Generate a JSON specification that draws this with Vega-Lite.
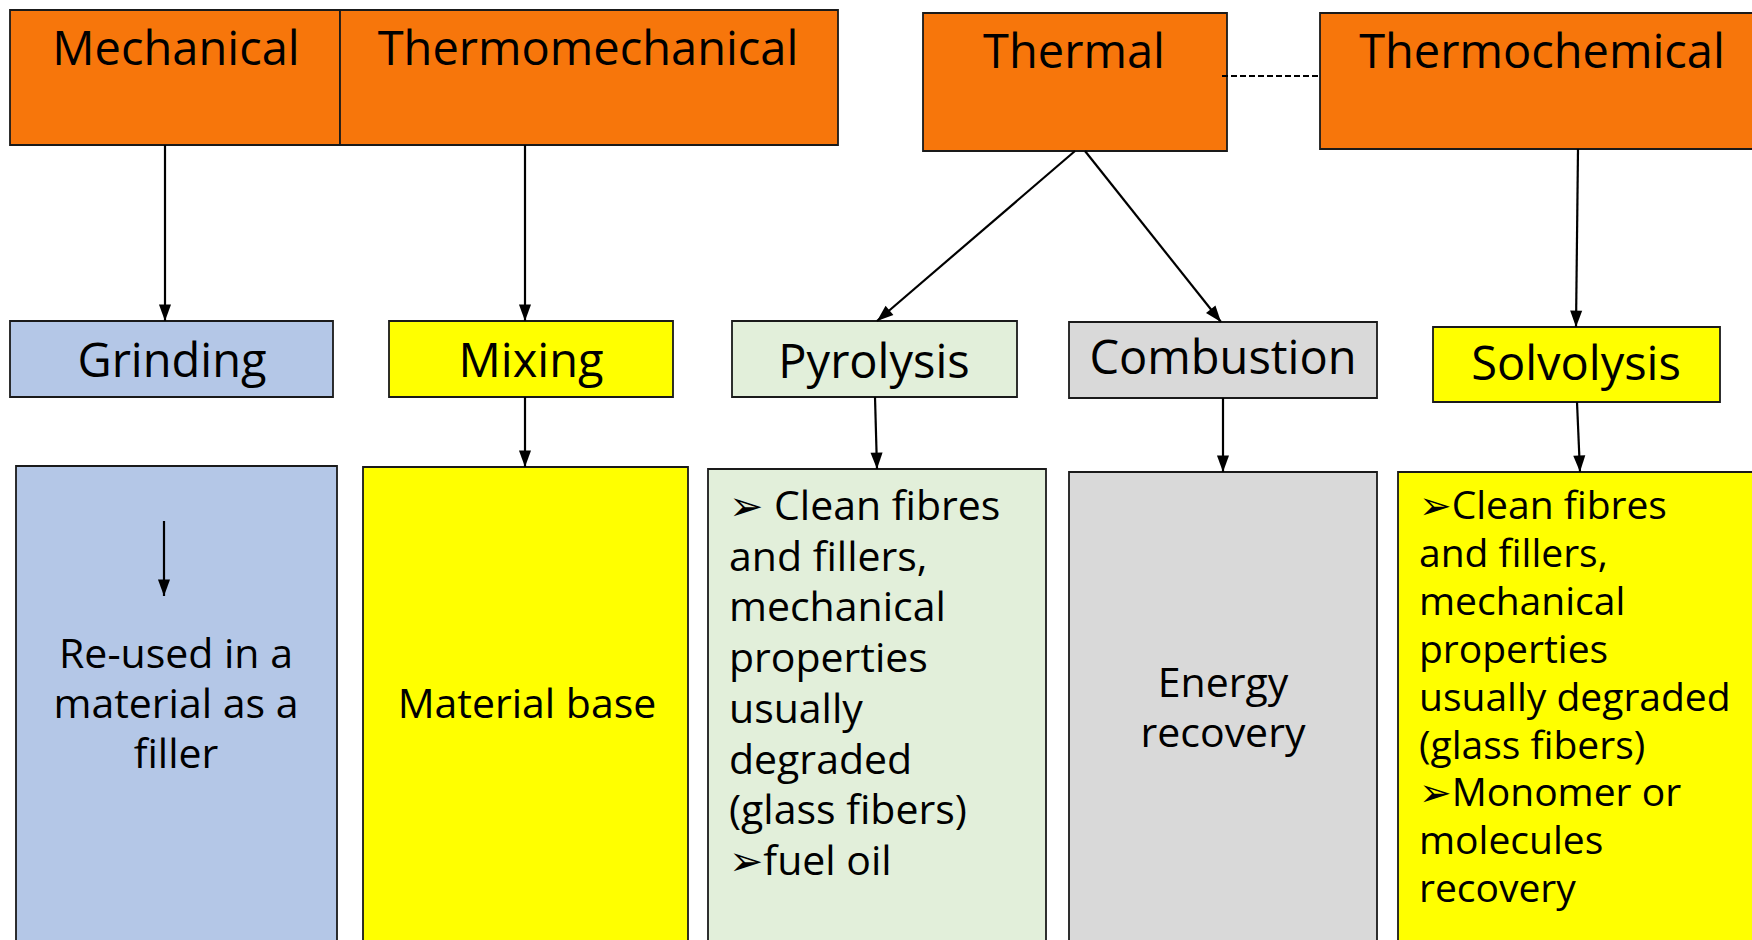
{
  "$schema": "https://vega.github.io/schema/vega-lite/v6.json",
  "autosize": {"type": "fit", "contains": "padding"},
  "width": 1752,
  "height": 940,
  "padding": 0,
  "background": "white",
  "config": {"view": {"stroke": null}},
  "datasets": {
    "boxes": [
      {"name": "Mechanical", "kind": "head", "x": 10, "x2": 340, "y": 10, "y2": 145},
      {"name": "Thermomechanical", "kind": "head", "x": 340, "x2": 838, "y": 10, "y2": 145},
      {"name": "Thermal", "kind": "head", "x": 923, "x2": 1227, "y": 13, "y2": 151},
      {"name": "Thermochemical", "kind": "head", "x": 1320, "x2": 1765, "y": 13, "y2": 149},
      {"name": "Grinding", "kind": "blue", "x": 10, "x2": 333, "y": 321, "y2": 397},
      {"name": "Mixing", "kind": "yellow", "x": 389, "x2": 673, "y": 321, "y2": 397},
      {"name": "Pyrolysis", "kind": "green", "x": 732, "x2": 1017, "y": 321, "y2": 397},
      {"name": "Combustion", "kind": "grey", "x": 1069, "x2": 1377, "y": 322, "y2": 398},
      {"name": "Solvolysis", "kind": "yellow", "x": 1433, "x2": 1720, "y": 327, "y2": 402},
      {"name": "Grinding out", "kind": "blue", "x": 16, "x2": 337, "y": 466, "y2": 960},
      {"name": "Mixing out", "kind": "yellow", "x": 363, "x2": 688, "y": 467, "y2": 960},
      {"name": "Pyrolysis out", "kind": "green", "x": 708, "x2": 1046, "y": 469, "y2": 960},
      {"name": "Combustion out", "kind": "grey", "x": 1069, "x2": 1377, "y": 472, "y2": 960},
      {"name": "Solvolysis out", "kind": "yellow", "x": 1398, "x2": 1765, "y": 472, "y2": 960}
    ],
    "links": [
      {"from": "Mechanical", "x": 165, "y": 145, "x2": 165, "y2": 321, "angle": 0},
      {"from": "Thermomechanical", "x": 525, "y": 145, "x2": 525, "y2": 321, "angle": 0},
      {"from": "Thermal-Pyrolysis", "x": 1075, "y": 151, "x2": 877, "y2": 321, "angle": 49.4},
      {"from": "Thermal-Combustion", "x": 1085, "y": 151, "x2": 1221, "y2": 322, "angle": -38.7},
      {"from": "Thermochemical", "x": 1578, "y": 149, "x2": 1576, "y2": 327, "angle": 0.6},
      {"from": "Mixing", "x": 525, "y": 397, "x2": 525, "y2": 467, "angle": 0},
      {"from": "Pyrolysis", "x": 875, "y": 397, "x2": 877, "y2": 469, "angle": -1.6},
      {"from": "Combustion", "x": 1223, "y": 398, "x2": 1223, "y2": 472, "angle": 0},
      {"from": "Solvolysis", "x": 1577, "y": 402, "x2": 1580, "y2": 472, "angle": -2.5},
      {"from": "Grinding inner", "x": 164, "y": 521, "x2": 164, "y2": 596, "angle": 0}
    ],
    "dashed": [
      {"from": "Thermal", "to": "Thermochemical", "x": 1222, "y": 76, "x2": 1320, "y2": 76}
    ],
    "heads": [
      {"label": "Mechanical", "x": 176, "y": 65},
      {"label": "Thermomechanical", "x": 588, "y": 65},
      {"label": "Thermal", "x": 1074, "y": 68},
      {"label": "Thermochemical", "x": 1542, "y": 68},
      {"label": "Grinding", "x": 172, "y": 377},
      {"label": "Mixing", "x": 531, "y": 377},
      {"label": "Pyrolysis", "x": 874, "y": 378},
      {"label": "Combustion", "x": 1223, "y": 374},
      {"label": "Solvolysis", "x": 1576, "y": 380}
    ],
    "centered": [
      {"label": "Re-used in a\nmaterial as a\nfiller", "x": 176, "y": 668},
      {"label": "Material base", "x": 527, "y": 718},
      {"label": "Energy\nrecovery", "x": 1223, "y": 697}
    ],
    "pyro": [
      {"label": "➢ Clean fibres\nand fillers,\nmechanical\nproperties\nusually\ndegraded\n(glass fibers)\n➢fuel oil", "x": 729, "y": 520}
    ],
    "solvo": [
      {"label": "➢Clean fibres\nand fillers,\nmechanical\nproperties\nusually degraded\n(glass fibers)\n➢Monomer or\nmolecules\nrecovery", "x": 1419, "y": 519}
    ]
  },
  "layer": [
    {
      "data": {"name": "boxes"},
      "mark": {"type": "rect", "stroke": "#1a1a1a", "strokeWidth": 1.8, "clip": true},
      "encoding": {
        "x": {"field": "x", "type": "quantitative", "scale": {"domain": [0, 1752], "nice": false, "zero": false}, "axis": null},
        "x2": {"field": "x2"},
        "y": {"field": "y", "type": "quantitative", "scale": {"domain": [0, 940], "nice": false, "zero": false, "reverse": true}, "axis": null},
        "y2": {"field": "y2"},
        "fill": {"field": "kind", "type": "nominal", "legend": null,
          "scale": {"domain": ["head", "blue", "yellow", "green", "grey"], "range": ["#F7760B", "#B4C7E7", "#FFFF00", "#E2EFDA", "#D9D9D9"]}}
      }
    },
    {
      "data": {"name": "links"},
      "mark": {"type": "rule", "color": "#000000", "strokeWidth": 2.2},
      "encoding": {
        "x": {"field": "x", "type": "quantitative"},
        "y": {"field": "y", "type": "quantitative"},
        "x2": {"field": "x2"},
        "y2": {"field": "y2"}
      }
    },
    {
      "data": {"name": "dashed"},
      "mark": {"type": "rule", "color": "#000000", "strokeWidth": 2, "strokeDash": [6, 3]},
      "encoding": {
        "x": {"field": "x", "type": "quantitative"},
        "y": {"field": "y", "type": "quantitative"},
        "x2": {"field": "x2"},
        "y2": {"field": "y2"}
      }
    },
    {
      "data": {"name": "links"},
      "mark": {"type": "point", "shape": "M0,0 L-0.55,-1.5 L0.55,-1.5 Z", "filled": true, "color": "#000000", "opacity": 1, "size": 480},
      "encoding": {
        "x": {"field": "x2", "type": "quantitative"},
        "y": {"field": "y2", "type": "quantitative"},
        "angle": {"field": "angle", "type": "quantitative", "scale": null}
      }
    },
    {
      "data": {"name": "heads"},
      "mark": {"type": "text", "font": "Open Sans", "fontSize": 47, "align": "center", "baseline": "alphabetic", "color": "#000000"},
      "encoding": {
        "x": {"field": "x", "type": "quantitative"},
        "y": {"field": "y", "type": "quantitative"},
        "text": {"field": "label", "type": "nominal"}
      }
    },
    {
      "data": {"name": "centered"},
      "mark": {"type": "text", "font": "Open Sans", "fontSize": 41, "lineHeight": 50, "lineBreak": "\n", "align": "center", "baseline": "alphabetic", "color": "#000000"},
      "encoding": {
        "x": {"field": "x", "type": "quantitative"},
        "y": {"field": "y", "type": "quantitative"},
        "text": {"field": "label", "type": "nominal"}
      }
    },
    {
      "data": {"name": "pyro"},
      "mark": {"type": "text", "font": "Open Sans, DejaVu Sans", "fontSize": 41, "lineHeight": 50.7, "lineBreak": "\n", "align": "left", "baseline": "alphabetic", "color": "#000000"},
      "encoding": {
        "x": {"field": "x", "type": "quantitative"},
        "y": {"field": "y", "type": "quantitative"},
        "text": {"field": "label", "type": "nominal"}
      }
    },
    {
      "data": {"name": "solvo"},
      "mark": {"type": "text", "font": "Open Sans, DejaVu Sans", "fontSize": 39, "lineHeight": 47.9, "lineBreak": "\n", "align": "left", "baseline": "alphabetic", "color": "#000000"},
      "encoding": {
        "x": {"field": "x", "type": "quantitative"},
        "y": {"field": "y", "type": "quantitative"},
        "text": {"field": "label", "type": "nominal"}
      }
    }
  ]
}
